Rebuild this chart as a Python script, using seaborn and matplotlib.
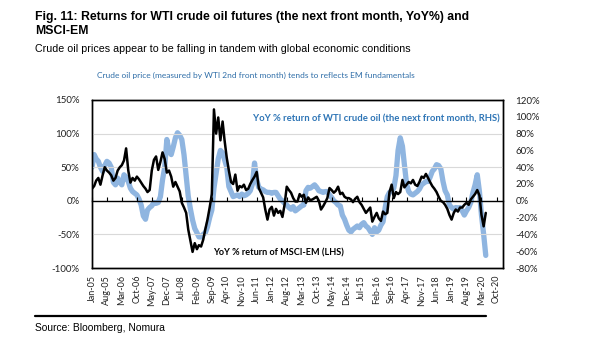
import numpy as np
import pandas as pd
import matplotlib
matplotlib.use("Agg")
import matplotlib.pyplot as plt
import matplotlib.ticker as mticker
import seaborn as sns

# Monthly YoY % returns, Jan-2005 .. May-2020
start_month = "2005-01-01"

msci_em_yoy = [
    18, 22, 30, 34, 24, 38, 50, 45, 42, 38, 30, 34,
    45, 50, 53, 60, 78, 45, 27, 34, 30, 36, 32, 27,
    22, 18, 13, 16, 45, 61, 66, 46, 58, 72, 62, 42,
    45, 36, 21, 28, 21, 14, -3, -10, -18, -43, -60, -76,
    -63, -72, -66, -68, -58, -42, -28, -10, 10, 136, 100, 124,
    90, 118, 90, 64, 45, 28, 25, 39, 15, 22, 20, 24,
    16, 18, 25, 31, 36, 43, 19, 12, 5, -13, -28, -13,
    -9, -22, -12, -18, -15, -24, -6, 21, 16, 12, 4, -1,
    -1, 10, 6, 9, -3, 5, 1, 2, 4, 6, 0, -13,
    -8, -2, 4, 19, 16, 12, 15, 21, 10, 12, 6, 4,
    4, 2, -2, 3, 6, -2, -6, -12, -18, -14, -10, -31,
    -24, -18, -26, -30, -16, -20, -18, 13, 24, 4, 13, 10,
    13, 31, 20, 24, 28, 26, 31, 24, 22, 28, 36, 34,
    40, 34, 28, 22, 18, 13, 6, 0, -2, -6, -12, -21,
    -28, -18, -13, -16, -10, -10, -6, -3, -6, 2, 6, 10,
    16, 8, -21, -38, -18,
]

wti_yoy = [
    40, 55, 50, 47, 40, 35, 42, 47, 45, 40, 22, 19,
    27, 22, 19, 31, 28, 23, 15, 11, 9, 7, 2, -5,
    -18, -22, -11, -8, -6, -2, -3, -2, 5, 25, 40, 73,
    60, 55, 64, 75, 81, 78, 73, 55, 30, 5, -10, -23,
    -33, -38, -43, -43, -40, -38, -31, -20, -11, 15, 33, 50,
    60, 57, 49, 40, 17, 11, 5, 6, 7, 5, 8, 6,
    7, 9, 12, 20, 45, 25, 16, 14, 13, 11, 10, 10,
    9, 10, 10, 6, 2, 0, -3, -5, -8, -10, -7, -12,
    -10, -8, -6, -5, 12, 16, 15, 17, 19, 16, 12, 11,
    10, 11, 11, 7, 4, 0, -2, -5, -6, -17, -22, -29,
    -35, -37, -34, -32, -30, -32, -28, -26, -30, -32, -36, -40,
    -32, -37, -35, -29, -25, -8, 5, 10, 12, 15, 30, 60,
    75, 65, 43, 20, 11, 8, 7, 9, 11, 14, 19, 21,
    23, 23, 28, 35, 38, 43, 42, 38, 23, 12, 7, -5,
    -8, -10, -8, -9, -8, -12, -17, -12, -8, -2, 10, 19,
    31, 11, -17, -40, -65,
]

tick_labels = [
    "Jan-05", "Aug-05", "Mar-06", "Oct-06", "May-07", "Dec-07", "Jul-08",
    "Feb-09", "Sep-09", "Apr-10", "Nov-10", "Jun-11", "Jan-12", "Aug-12",
    "Mar-13", "Oct-13", "May-14", "Dec-14", "Jul-15", "Feb-16", "Sep-16",
    "Apr-17", "Nov-17", "Jun-18", "Jan-19", "Aug-19", "Mar-20", "Oct-20",
]
left_ticks = [-100, -50, 0, 50, 100, 150]
right_ticks = [-80, -60, -40, -20, 0, 20, 40, 60, 80, 100, 120]

dates = pd.date_range(start_month, periods=len(msci_em_yoy), freq="MS")
df = pd.DataFrame({"date": dates, "msci": msci_em_yoy, "wti": wti_yoy})
tick_dates = pd.to_datetime(tick_labels, format="%b-%y")

sns.set_theme(style="white")
plt.rcParams["font.family"] = ["Lato", "DejaVu Sans"]

W, H = 605, 341
fig = plt.figure(figsize=(W / 100, H / 100), dpi=100)
fig.patch.set_facecolor("white")

def fx(px):
    return px / W

def fy(py):
    return 1 - py / H

ax = fig.add_axes([fx(92), fy(268), fx(503) - fx(92), fy(100) - fy(268)])
ax2 = ax.twinx()

blue = "#8fb5e0"
sns.lineplot(data=df, x="date", y="wti", ax=ax2, color=blue, linewidth=3.8,
             solid_joinstyle="round")
sns.lineplot(data=df, x="date", y="msci", ax=ax, color="black", linewidth=1.8)

ax.set_zorder(ax2.get_zorder() + 1)
ax.patch.set_visible(False)

x0 = pd.Timestamp("2005-01-01")
x1 = pd.Timestamp("2021-01-01")
ax.set_xlim(x0, x1)
ax.set_ylim(-100, 150)
ax2.set_ylim(-80, 120)

ax.set_yticks(left_ticks)
ax2.set_yticks(right_ticks)
ax.yaxis.set_major_formatter(mticker.FuncFormatter(lambda v, p: f"{v:.0f}%"))
ax2.yaxis.set_major_formatter(mticker.FuncFormatter(lambda v, p: f"{v:.0f}%"))

ax.set_xticks(tick_dates)
ax.set_xticklabels(tick_labels, rotation=90)
ax.tick_params(axis="x", length=0, pad=5, labelsize=6.5, colors="#222222")
ax.tick_params(axis="y", length=0, pad=9, labelsize=7, colors="#222222")
ax2.tick_params(axis="y", length=0, pad=9, labelsize=7, colors="#222222")

for a in (ax, ax2):
    a.set_xlabel("")
    a.set_ylabel("")
    a.grid(False)
    for s in a.spines.values():
        s.set_color("black")
        s.set_linewidth(1.0)

for v in (-50, 50, 100):
    ax.axhline(v, color="#d9d9d9", linewidth=0.8, zorder=0)

# zero line carrying the date tick marks
zero_frac = (0 - (-100)) / 250
zax = ax.secondary_xaxis(zero_frac)
zax.set_xticks(tick_dates)
zax.tick_params(axis="x", direction="in", length=3, width=0.8,
                labelbottom=False, labeltop=False, color="black")
zax.spines["bottom"].set_linewidth(1.0)
zax.spines["bottom"].set_color("black")

fig.text(fx(253), fy(119), "YoY % return of WTI crude oil (the next front month, RHS)",
         color="#2e75b6", fontsize=6.8, fontweight="bold", va="center", ha="left")
fig.text(fx(213), fy(253), "YoY % return of MSCI-EM (LHS)",
         color="black", fontsize=6.6, fontweight="bold", va="center", ha="left")

fig.text(fx(256), fy(75),
         "Crude oil price (measured by WTI 2nd front month) tends to reflects EM fundamentals",
         color="#2f6ea8", fontsize=6.0, va="center", ha="center")

arial = ["Liberation Sans", "DejaVu Sans"]
fig.text(fx(35), fy(20), "Fig. 11: Returns for WTI crude oil futures (the next front month, YoY%) and",
         family=arial, fontsize=8.8, fontweight="bold", va="baseline", ha="left", color="black")
fig.text(fx(35), fy(34), "MSCI-EM",
         family=arial, fontsize=8.8, fontweight="bold", va="baseline", ha="left", color="black")
fig.text(fx(35), fy(52), "Crude oil prices appear to be falling in tandem with global economic conditions",
         family=arial, fontsize=7.7, va="baseline", ha="left", color="black")
fig.text(fx(35), fy(331), "Source: Bloomberg, Nomura",
         family=arial, fontsize=7.4, va="baseline", ha="left", color="black")

fig.add_artist(plt.Line2D([fx(35), fx(486)], [fy(316), fy(316)],
                          color="black", linewidth=1.6, transform=fig.transFigure))

fig.savefig("out.png", dpi=100, facecolor="white")
